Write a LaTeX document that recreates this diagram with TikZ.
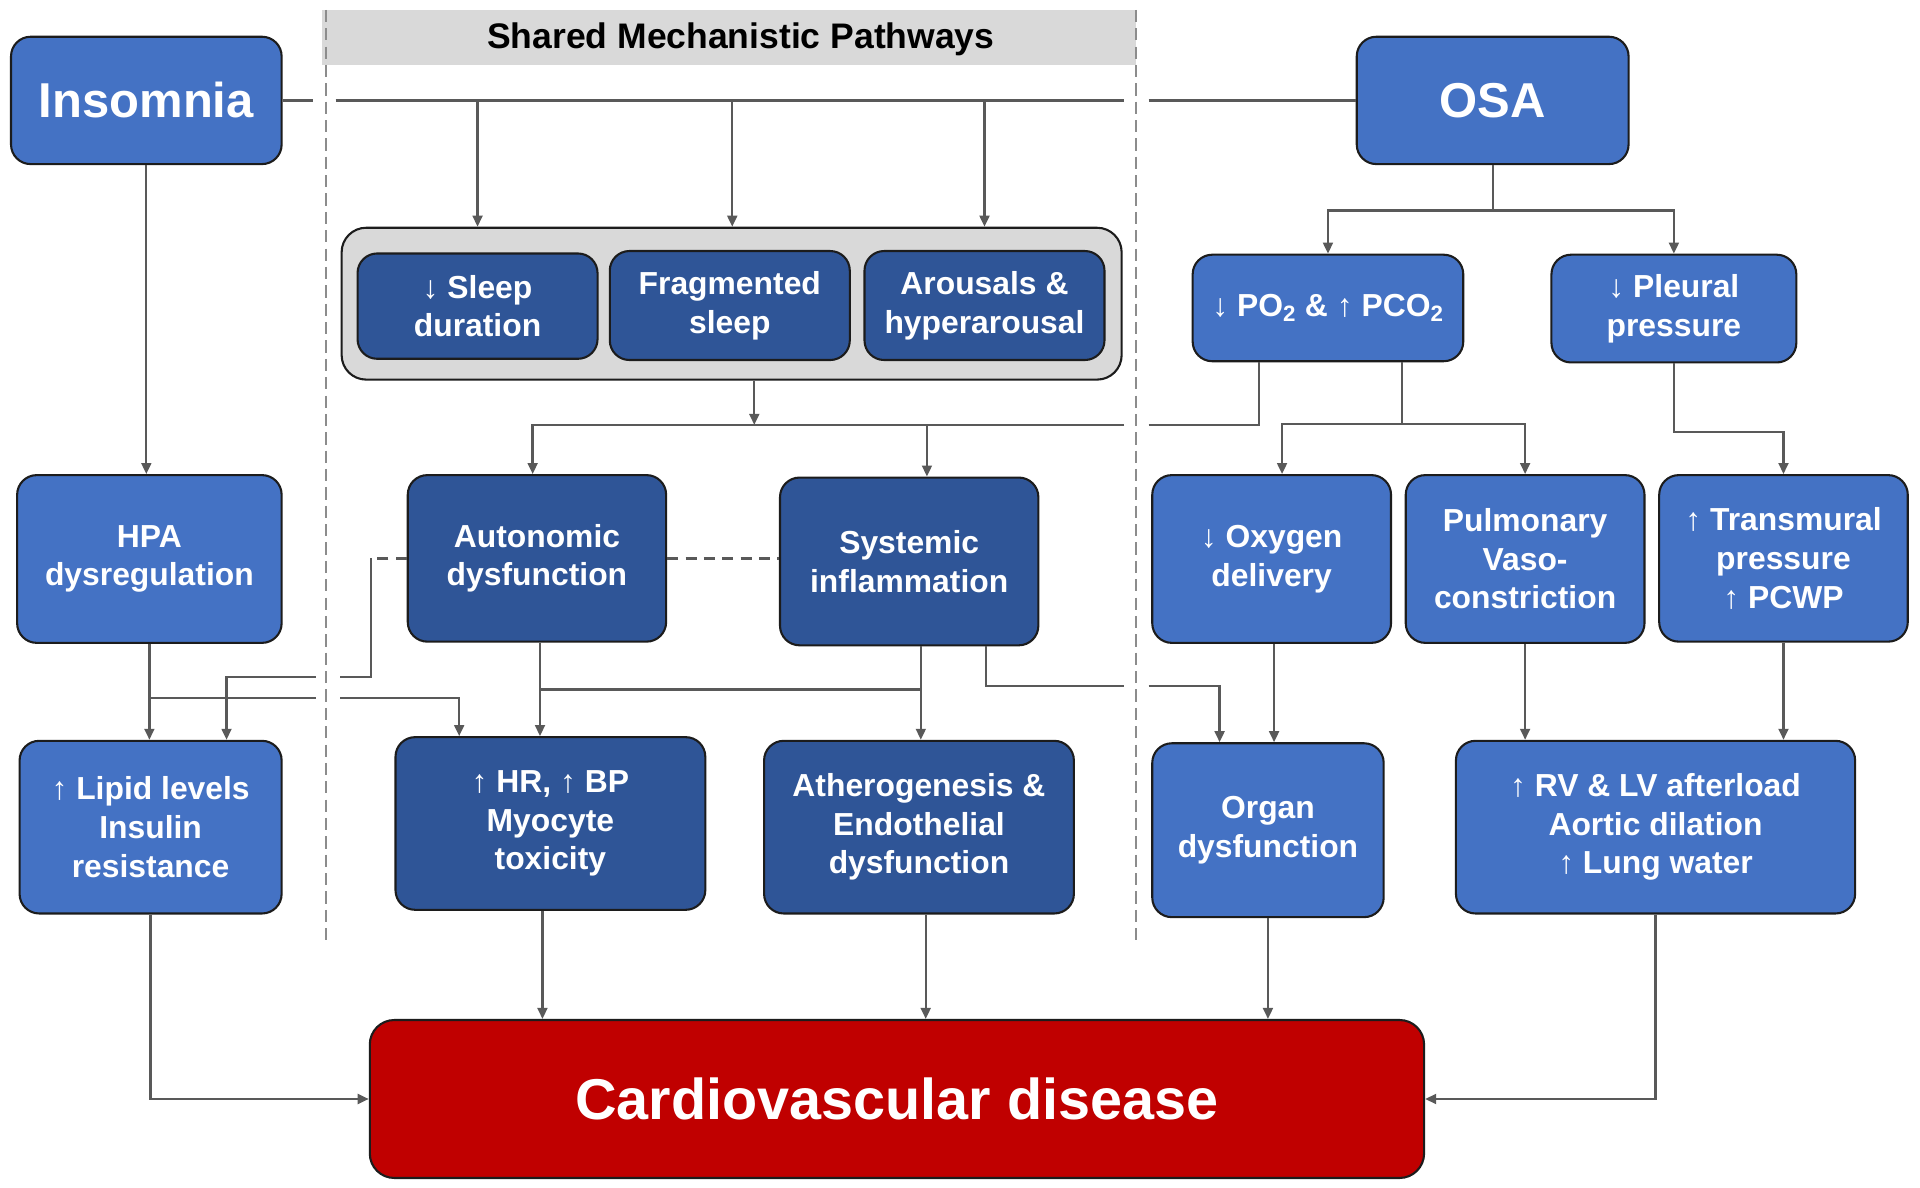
\documentclass[tikz,border=0pt]{standalone}
\usepackage{fontspec}
\setmainfont{Liberation Sans}
\usetikzlibrary{arrows.meta}
\definecolor{midblue}{HTML}{4472C4}
\definecolor{darkblue}{HTML}{2F5597}
\definecolor{cvdred}{HTML}{C00000}
\definecolor{linegray}{HTML}{595959}
\definecolor{panelgray}{HTML}{D9D9D9}
\definecolor{boxline}{HTML}{1C1C1C}
\definecolor{sepgray}{HTML}{8C8C8C}
\newcommand\bxfont{\fontsize{26}{31.5}\selectfont\bfseries}
\newcommand\bigfont{\fontsize{40}{46}\selectfont\bfseries}
\newcommand\cvdfont{\fontsize{47}{54}\selectfont\bfseries}
\newcommand\hdrfont{\fontsize{29}{33}\selectfont\bfseries}
\begin{document}
\begin{tikzpicture}[x=1pt,y=-1pt,
  box/.style={draw=boxline, line width=1.7pt, rounded corners=16pt, text=white, align=center, font=\bxfont, inner sep=0pt},
  mid/.style={box, fill=midblue},
  dark/.style={box, fill=darkblue},
  conn/.style={draw=linegray, line width=1.9pt},
  arr/.style={conn, -{Triangle[length=9pt,width=8pt]}},
  dconn/.style={conn, dash pattern=on 9pt off 6pt},
  sepline/.style={draw=sepgray, line width=1.4pt, dash pattern=on 10pt off 5pt}]
\fill[white] (0,0) rectangle (1568,970);
\useasboundingbox (0,0) rectangle (1568,970);

% header
\node[fill=panelgray, minimum width=665pt, minimum height=45pt, inner sep=0pt] (hdr) at (595.5,30.5) {};
\node[font=\hdrfont, text=black] (hdrtxt) at (605,32) {Shared Mechanistic Pathways};
\draw[sepline] (266,8) -- (266,768);
\draw[sepline] (928,8) -- (928,768);

% top boxes
\node[mid, font=\bigfont, minimum width=221pt, minimum height=104pt] (ins) at (119.5,82) {Insomnia};
\node[mid, font=\bigfont, minimum width=222pt, minimum height=104pt] (osa) at (1219,82) {OSA};

% shared container
\node[box, fill=panelgray, rounded corners=20pt, minimum width=637pt, minimum height=124pt] (cont) at (597.5,248) {};
\node[dark, minimum width=196pt, minimum height=86pt] (sleep) at (390,250) {↓ Sleep\\duration};
\node[dark, minimum width=196pt, minimum height=89pt] (frag) at (596,249.5) {Fragmented\\sleep};
\node[dark, minimum width=196pt, minimum height=89pt] (arou) at (804,249.5) {Arousals \&\\hyperarousal};

% OSA level 2
\node[mid, minimum width=221pt, minimum height=87pt] (po2) at (1084.5,251.5) {↓ PO\textsubscript{2} \& ↑ PCO\textsubscript{2}};
\node[mid, minimum width=200pt, minimum height=88pt] (pleu) at (1367,252) {↓ Pleural\\pressure};

% row 2
\node[mid, minimum width=216pt, minimum height=137pt] (hpa) at (122,456.5) {HPA\\dysregulation};
\node[dark, minimum width=211pt, minimum height=136pt] (auto) at (438.5,456) {Autonomic\\dysfunction};
\node[dark, minimum width=211pt, minimum height=137pt] (sys) at (742.5,458.5) {Systemic\\inflammation};
\node[mid, minimum width=195pt, minimum height=137pt] (oxy) at (1038.5,456.5) {↓ Oxygen\\delivery};
\node[mid, minimum width=195pt, minimum height=137pt] (pulm) at (1245.5,456.5) {Pulmonary\\Vaso-\\constriction};
\node[mid, minimum width=203pt, minimum height=136pt] (trans) at (1456.5,456) {↑ Transmural\\pressure\\↑ PCWP};

% row 3
\node[mid, minimum width=214pt, minimum height=141pt] (lip) at (123,675.5) {↑ Lipid levels\\Insulin\\resistance};
\node[dark, minimum width=253pt, minimum height=141pt] (hr) at (449.5,672.5) {↑ HR, ↑ BP\\Myocyte\\toxicity};
\node[dark, minimum width=253pt, minimum height=141pt] (ath) at (750.5,675.5) {Atherogenesis \&\\Endothelial\\dysfunction};
\node[mid, minimum width=189pt, minimum height=142pt] (org) at (1035.5,678) {Organ\\dysfunction};
\node[mid, minimum width=326pt, minimum height=141pt] (rv) at (1352,675.5) {↑ RV \& LV afterload\\Aortic dilation\\↑ Lung water};

% CVD
\node[box, fill=cvdred, font=\cvdfont, rounded corners=20pt, minimum width=861pt, minimum height=129pt] (cvd) at (732.5,897.5) {Cardiovascular disease};

% coordinates
\coordinate (busT) at (600,82);
\coordinate (gT1) at (256,82);
\coordinate (gT2) at (274,82);
\coordinate (gT3) at (918,82);
\coordinate (gT4) at (938,82);
\coordinate (busM) at (616,347);
\coordinate (gM1) at (918,347);
\coordinate (gM2) at (938,347);
\coordinate (osaJ) at (1219,172);
\coordinate (poJ) at (1145,346);
\coordinate (plJ) at (1367,353);
\coordinate (hpJ) at (122,570);
\coordinate (hpG1) at (258,570);
\coordinate (hpG2) at (278,570);
\coordinate (adL) at (303,456);
\coordinate (adD) at (303,553);
\coordinate (adG1) at (278,553);
\coordinate (adG2) at (258,553);
\coordinate (jy) at (0,563);
\coordinate (soG1) at (918,560);
\coordinate (soG2) at (938,560);

% top bus
\draw[conn] (ins.east) -- (gT1);
\draw[conn] (gT2) -- (gT3);
\draw[conn] (gT4) -- (osa.west);
\draw[arr] (sleep.north |- busT) -- (sleep.north |- cont.north);
\draw[arr] ([xshift=2pt]frag.north |- busT) -- ([xshift=2pt]frag.north |- cont.north);
\draw[arr] (arou.north |- busT) -- (arou.north |- cont.north);

% container to middle bus
\draw[arr] (busM |- cont.south) -- (busM);
\draw[arr] (gM1) -- ([xshift=-3.5pt]auto.north |- busM) -- ([xshift=-3.5pt]auto.north);
\draw[arr] ([xshift=14.5pt]sys.north |- busM) -- ([xshift=14.5pt]sys.north);
\draw[conn] (gM2) -| ([xshift=-56.5pt]po2.south);

% OSA branch
\draw[arr] (osa.south) -- (osaJ) -| (po2.north);
\draw[arr] (osaJ) -| (pleu.north);
\draw[arr] ([xshift=60.5pt]po2.south) -- (poJ) -| ([xshift=8.5pt]oxy.north);
\draw[arr] (poJ) -| (pulm.north);
\draw[arr] (pleu.south) -- (plJ) -| (trans.north);

% insomnia branch
\draw[arr] (ins.south) -- (ins.south |- hpa.north);
\draw[arr] (hpa.south) -- (hpa.south |- lip.north);
\draw[conn] (hpJ) -- (hpG1);
\draw[arr] (hpG2) -| ([xshift=-74.5pt]hr.north);

% autonomic links
\draw[dconn] (auto.west) -- (adL);
\draw[conn] (adL) -- (adD) -- (adG1);
\draw[arr] (adG2) -| ([xshift=62pt]lip.north);
\draw[dconn] (auto.east) -- (auto.east -| sys.west);
\draw[arr] ([xshift=2.5pt]auto.south) -- ([xshift=2.5pt]auto.south |- hr.north);
\draw[conn] ([xshift=2.5pt]auto.south |- jy) -- ([xshift=9.5pt]sys.south |- jy);
\draw[arr] ([xshift=9.5pt]sys.south) -- ([xshift=9.5pt]sys.south |- ath.north);
\draw[conn] ([xshift=62.5pt]sys.south) |- (soG1);
\draw[arr] (soG2) -| ([xshift=-39.5pt]org.north);

% OSA lower
\draw[arr] ([xshift=2pt]oxy.south) -- ([xshift=2pt]oxy.south |- org.north);
\draw[arr] (pulm.south) -- (pulm.south |- rv.north);
\draw[arr] (trans.south) -- (trans.south |- rv.north);

% to CVD
\draw[arr] (lip.south) |- (cvd.west);
\draw[arr] ([xshift=-6.5pt]hr.south) -- ([xshift=-6.5pt]hr.south |- cvd.north);
\draw[arr] ([xshift=5.5pt]ath.south) -- ([xshift=5.5pt]ath.south |- cvd.north);
\draw[arr] (org.south) -- (org.south |- cvd.north);
\draw[arr] (rv.south) |- (cvd.east);
\end{tikzpicture}
\end{document}
